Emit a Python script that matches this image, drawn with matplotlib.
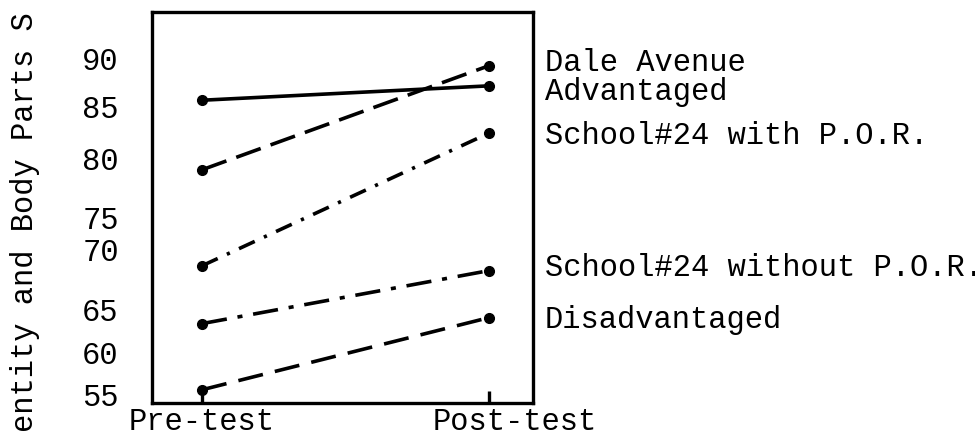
import numpy as np
import matplotlib
matplotlib.use("Agg")
from matplotlib import pyplot as plt
from matplotlib.transforms import ScaledTranslation

plt.rcParams['font.family'] = ['Liberation Mono', 'DejaVu Sans Mono']

# データ
tests = ['Pre-test', 'Post-test']
groups = ['Dale Avenue', 'Advantaged', 'School#24 with P.O.R.',
          'School#24 without P.O.R.', 'Disadvantaged']
dale = [79.0, 89.2]
advantaged = [85.6, 87.1]
with_por = [68.6, 82.4]
without_por = [63.3, 68.2]
disadvantaged = [55.5, 64.0]
yticks = [55, 60, 65, 70, 75, 80, 85, 90]

# the typewritten axis has uneven tick spacing: map each tick value to its row
knot_vals = np.array([50, 55, 60, 65, 70, 75, 80, 85, 90, 95])
knot_rows = -np.array([436, 394, 352, 309, 249, 217, 158, 106, 58, 10], float)

def fwd(v):
    return np.interp(v, knot_vals, knot_rows)

def inv(u):
    return np.interp(u, knot_rows, knot_vals)

W, H = 975, 444
fig = plt.figure(figsize=(W / 100, H / 100), dpi=100)
ax = fig.add_axes([152 / W, 1 - 403 / H, 381 / W, 391 / H])
ax.set_yscale('function', functions=(fwd, inv))

x = np.arange(len(tests))
lw = 2.6
series = [
    (dale, (7.2, 2.9)),
    (advantaged, None),
    (with_por, (4.8, 2.8, 0.9, 2.8)),
    (without_por, (7.0, 3.0, 1.4, 3.0)),
    (disadvantaged, (7.0, 3.4)),
]
for vals, dash in series:
    line, = ax.plot(x, vals, color='black', lw=lw, marker='o', ms=7,
                    solid_capstyle='butt', dash_capstyle='butt')
    if dash is not None:
        line.set_dashes(dash)

ax.set_xlim(-0.174, 1.153)
ax.set_ylim(inv(-403), inv(-12))
ax.set_yticks(yticks)
ax.set_yticklabels([str(t) for t in yticks])
ax.minorticks_off()
ax.tick_params(axis='y', length=0, pad=24, labelsize=22)
ax.set_xticks(x)
ax.set_xticklabels(tests)
ax.tick_params(axis='x', direction='in', length=9, width=2.4, pad=3,
               labelsize=22)
# Post-test label sits to the right of its tick
post_lbl = ax.get_xticklabels()[1]
post_lbl.set_transform(post_lbl.get_transform()
                       + ScaledTranslation(26 / 100, 0, fig.dpi_scale_trans))
for s in ax.spines.values():
    s.set_linewidth(2.4)

# ラベル
label_rows = [63, 92, 136, 268, 320]
for name, row in zip(groups, label_rows):
    fig.text(545 / W, 1 - row / H, name, fontsize=22, va='center', ha='left')

fig.text(25 / W, 0.5, 'entity and Body Parts S', rotation=90, fontsize=22,
         va='center', ha='center')

fig.savefig('out.png', dpi=100)
